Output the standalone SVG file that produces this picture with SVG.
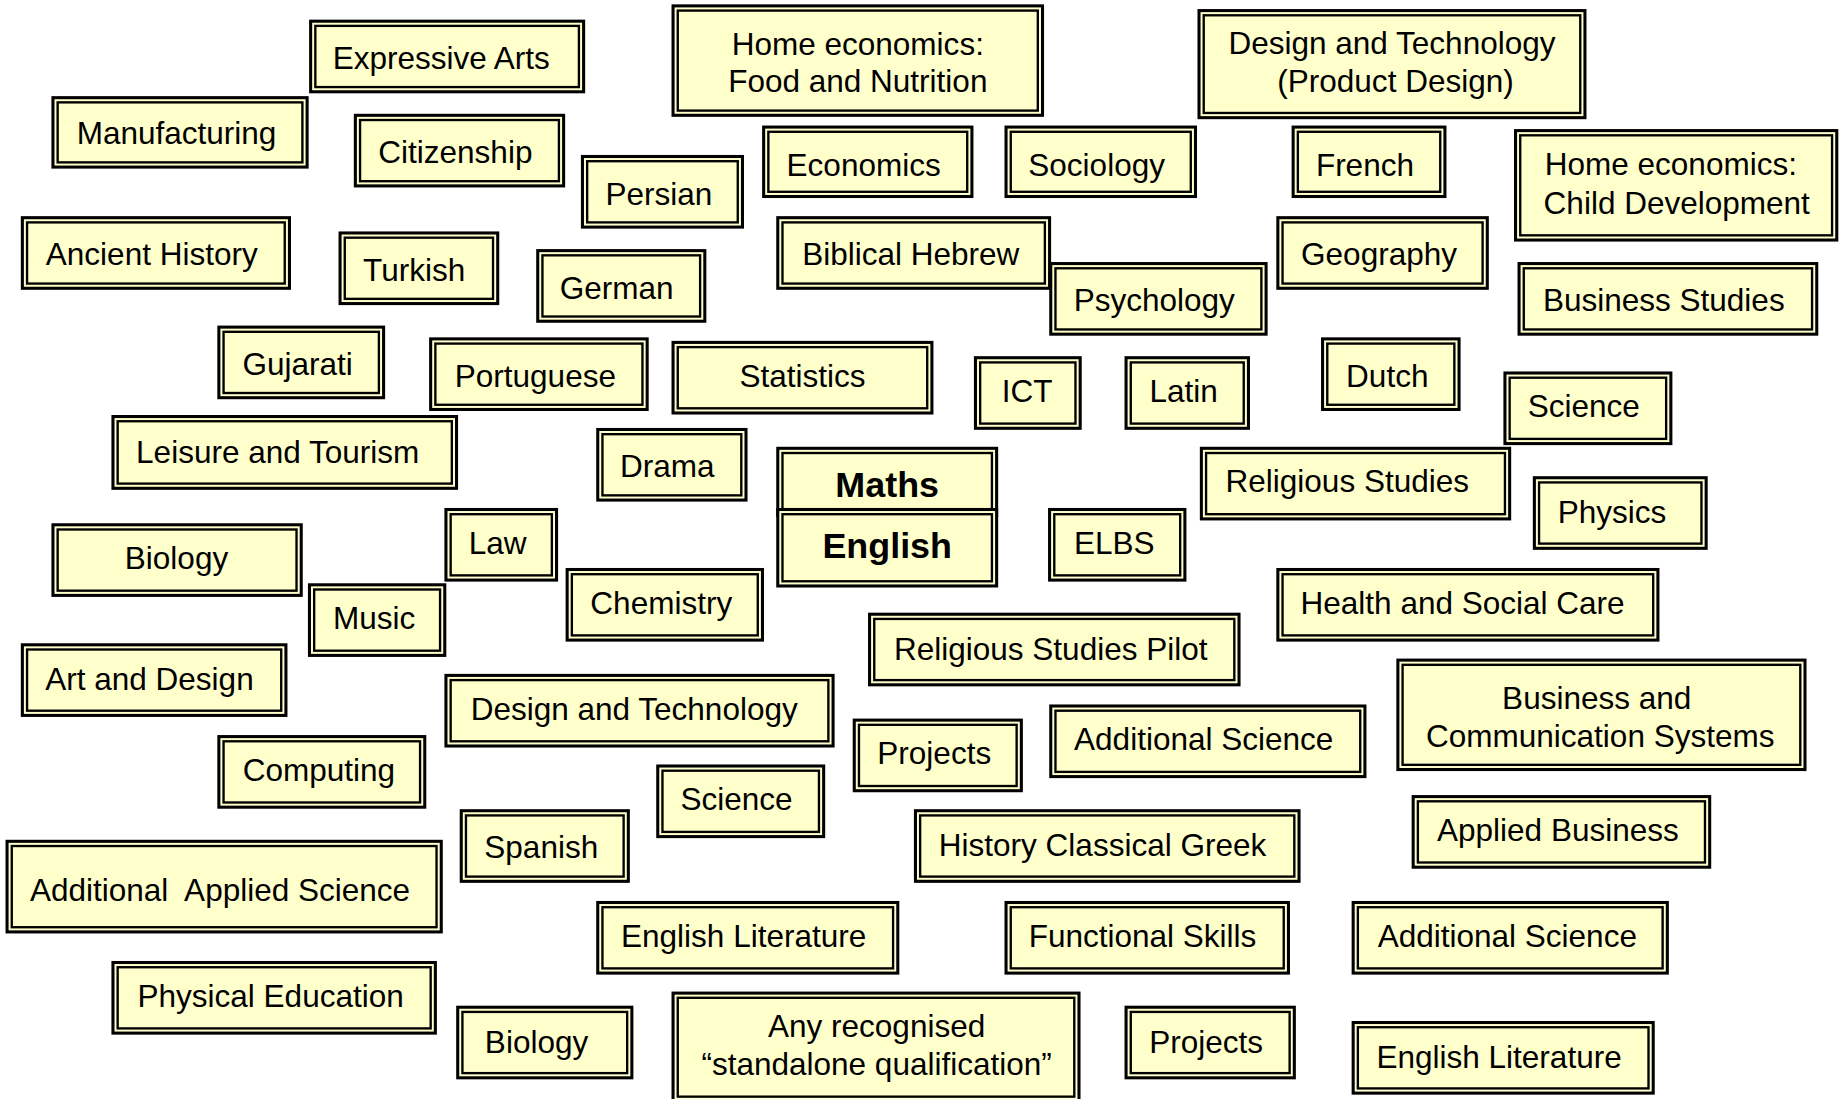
<svg xmlns="http://www.w3.org/2000/svg" width="1845" height="1099" viewBox="0 0 1845 1099">
<style>
.o{fill:#ffffcc;stroke:#000;stroke-width:2.6}
.i{fill:none;stroke:#000;stroke-width:2}
text{font-family:"Liberation Sans",Arial,sans-serif;font-size:26.8px;fill:#000;text-anchor:middle;white-space:pre}
.b{font-weight:bold;font-size:30.5px}
</style>
<rect width="1845" height="1099" fill="#fff"/>
<g id="connectors"/>
<g transform="scale(1.17666)">
<g id="n1"><rect class="o" x="264" y="18" width="232" height="60"/><rect class="i" x="268" y="22" width="224" height="52"/><text x="375" y="58.5">Expressive Arts</text></g>
<g id="n2"><rect class="o" x="572" y="5" width="314" height="93"/><rect class="i" x="576" y="9" width="306" height="85"/><text x="729" y="46.5">Home economics:</text><text x="729" y="78.5">Food and Nutrition</text></g>
<g id="n3"><rect class="o" x="1019" y="9" width="328" height="91"/><rect class="i" x="1023" y="13" width="320" height="83"/><text x="1183" y="45.5">Design and Technology</text><text x="1186" y="78.5">(Product Design)</text></g>
<g id="n4"><rect class="o" x="45" y="83" width="216" height="59"/><rect class="i" x="49" y="87" width="208" height="51"/><text x="150" y="122.5">Manufacturing</text></g>
<g id="n5"><rect class="o" x="302" y="98" width="177" height="60"/><rect class="i" x="306" y="102" width="169" height="52"/><text x="387" y="138.5">Citizenship</text></g>
<g id="n6"><rect class="o" x="495" y="133" width="136" height="60"/><rect class="i" x="499" y="137" width="128" height="52"/><text x="560" y="174.5">Persian</text></g>
<g id="n7"><rect class="o" x="649" y="108" width="177" height="59"/><rect class="i" x="653" y="112" width="169" height="51"/><text x="734" y="149.5">Economics</text></g>
<g id="n8"><rect class="o" x="855" y="108" width="161" height="59"/><rect class="i" x="859" y="112" width="153" height="51"/><text x="932" y="149.5">Sociology</text></g>
<g id="n9"><rect class="o" x="1099" y="108" width="129" height="59"/><rect class="i" x="1103" y="112" width="121" height="51"/><text x="1160" y="149.5">French</text></g>
<g id="n10"><rect class="o" x="1288" y="111" width="273" height="93"/><rect class="i" x="1292" y="115" width="265" height="85"/><text x="1420" y="148.5">Home economics:</text><text x="1425" y="181.5">Child Development</text></g>
<g id="n11"><rect class="o" x="19" y="185" width="227" height="60"/><rect class="i" x="23" y="189" width="219" height="52"/><text x="129" y="225.5">Ancient History</text></g>
<g id="n12"><rect class="o" x="289" y="198" width="134" height="60"/><rect class="i" x="293" y="202" width="126" height="52"/><text x="352" y="238.5">Turkish</text></g>
<g id="n13"><rect class="o" x="457" y="213" width="142" height="60"/><rect class="i" x="461" y="217" width="134" height="52"/><text x="524" y="254.5">German</text></g>
<g id="n14"><rect class="o" x="661" y="185" width="231" height="60"/><rect class="i" x="665" y="189" width="223" height="52"/><text x="774" y="225.5">Biblical Hebrew</text></g>
<g id="n15"><rect class="o" x="893" y="224" width="183" height="60"/><rect class="i" x="897" y="228" width="175" height="52"/><text x="981" y="264.5">Psychology</text></g>
<g id="n16"><rect class="o" x="1086" y="185" width="178" height="60"/><rect class="i" x="1090" y="189" width="170" height="52"/><text x="1172" y="225.5">Geography</text></g>
<g id="n17"><rect class="o" x="1291" y="224" width="253" height="60"/><rect class="i" x="1295" y="228" width="245" height="52"/><text x="1414" y="264.5">Business Studies</text></g>
<g id="n18"><rect class="o" x="186" y="278" width="140" height="60"/><rect class="i" x="190" y="282" width="132" height="52"/><text x="253" y="318.5">Gujarati</text></g>
<g id="n19"><rect class="o" x="366" y="288" width="184" height="60"/><rect class="i" x="370" y="292" width="176" height="52"/><text x="455" y="328.5">Portuguese</text></g>
<g id="n20"><rect class="o" x="572" y="291" width="220" height="60"/><rect class="i" x="576" y="295" width="212" height="52"/><text x="682" y="328.5">Statistics</text></g>
<g id="n21"><rect class="o" x="829" y="304" width="89" height="60"/><rect class="i" x="833" y="308" width="81" height="52"/><text x="873" y="341.5">ICT</text></g>
<g id="n22"><rect class="o" x="957" y="304" width="104" height="60"/><rect class="i" x="961" y="308" width="96" height="52"/><text x="1006" y="341.5">Latin</text></g>
<g id="n23"><rect class="o" x="1124" y="288" width="116" height="60"/><rect class="i" x="1128" y="292" width="108" height="52"/><text x="1179" y="328.5">Dutch</text></g>
<g id="n24"><rect class="o" x="1279" y="317" width="141" height="60"/><rect class="i" x="1283" y="321" width="133" height="52"/><text x="1346" y="354.5">Science</text></g>
<g id="n25"><rect class="o" x="96" y="354" width="292" height="61"/><rect class="i" x="100" y="358" width="284" height="53"/><text x="236" y="393.5">Leisure and Tourism</text></g>
<g id="n26"><rect class="o" x="508" y="365" width="126" height="60"/><rect class="i" x="512" y="369" width="118" height="52"/><text x="567" y="405.5">Drama</text></g>
<g id="n27"><rect class="o" x="661" y="381" width="186" height="57"/><rect class="i" x="665" y="385" width="178" height="49"/><text class="b" x="754" y="422">Maths</text></g>
<g id="n28"><rect class="o" x="661" y="433" width="186" height="65"/><rect class="i" x="665" y="437" width="178" height="57"/><text class="b" x="754" y="474">English</text></g>
<g id="n29"><rect class="o" x="892" y="433" width="115" height="60"/><rect class="i" x="896" y="437" width="107" height="52"/><text x="947" y="470.5">ELBS</text></g>
<g id="n30"><rect class="o" x="1021" y="381" width="262" height="60"/><rect class="i" x="1025" y="385" width="254" height="52"/><text x="1145" y="418.5">Religious Studies</text></g>
<g id="n31"><rect class="o" x="1304" y="406" width="146" height="60"/><rect class="i" x="1308" y="410" width="138" height="52"/><text x="1370" y="444.5">Physics</text></g>
<g id="n32"><rect class="o" x="45" y="446" width="211" height="60"/><rect class="i" x="49" y="450" width="203" height="52"/><text x="150" y="483.5">Biology</text></g>
<g id="n33"><rect class="o" x="379" y="433" width="94" height="60"/><rect class="i" x="383" y="437" width="86" height="52"/><text x="423" y="470.5">Law</text></g>
<g id="n34"><rect class="o" x="263" y="497" width="115" height="60"/><rect class="i" x="267" y="501" width="107" height="52"/><text x="318" y="534.5">Music</text></g>
<g id="n35"><rect class="o" x="482" y="484" width="166" height="60"/><rect class="i" x="486" y="488" width="158" height="52"/><text x="562" y="521.5">Chemistry</text></g>
<g id="n36"><rect class="o" x="1086" y="484" width="323" height="60"/><rect class="i" x="1090" y="488" width="315" height="52"/><text x="1243" y="521.5">Health and Social Care</text></g>
<g id="n37"><rect class="o" x="739" y="522" width="314" height="60"/><rect class="i" x="743" y="526" width="306" height="52"/><text x="893" y="560.5">Religious Studies Pilot</text></g>
<g id="n38"><rect class="o" x="19" y="548" width="224" height="60"/><rect class="i" x="23" y="552" width="216" height="52"/><text x="127" y="586.5">Art and Design</text></g>
<g id="n39"><rect class="o" x="379" y="574" width="329" height="60"/><rect class="i" x="383" y="578" width="321" height="52"/><text x="539" y="611.5">Design and Technology</text></g>
<g id="n40"><rect class="o" x="1188" y="561" width="346" height="93"/><rect class="i" x="1192" y="565" width="338" height="85"/><text x="1357" y="602.5">Business and</text><text x="1360" y="634.5">Communication Systems</text></g>
<g id="n41"><rect class="o" x="726" y="612" width="142" height="60"/><rect class="i" x="730" y="616" width="134" height="52"/><text x="794" y="649.5">Projects</text></g>
<g id="n42"><rect class="o" x="893" y="600" width="267" height="60"/><rect class="i" x="897" y="604" width="259" height="52"/><text x="1023" y="637.5">Additional Science</text></g>
<g id="n43"><rect class="o" x="186" y="626" width="175" height="60"/><rect class="i" x="190" y="630" width="167" height="52"/><text x="271" y="663.5">Computing</text></g>
<g id="n44"><rect class="o" x="559" y="651" width="141" height="60"/><rect class="i" x="563" y="655" width="133" height="52"/><text x="626" y="688.5">Science</text></g>
<g id="n45"><rect class="o" x="392" y="689" width="142" height="60"/><rect class="i" x="396" y="693" width="134" height="52"/><text x="460" y="729.5">Spanish</text></g>
<g id="n46"><rect class="o" x="778" y="689" width="326" height="60"/><rect class="i" x="782" y="693" width="318" height="52"/><text x="937" y="727.5">History Classical Greek</text></g>
<g id="n47"><rect class="o" x="1201" y="677" width="252" height="60"/><rect class="i" x="1205" y="681" width="244" height="52"/><text x="1324" y="714.5">Applied Business</text></g>
<g id="n48"><rect class="o" x="6" y="715" width="369" height="77"/><rect class="i" x="10" y="719" width="361" height="69"/><text x="187" y="765.5">Additional  Applied Science</text></g>
<g id="n49"><rect class="o" x="508" y="767" width="255" height="60"/><rect class="i" x="512" y="771" width="247" height="52"/><text x="632" y="804.5">English Literature</text></g>
<g id="n50"><rect class="o" x="855" y="767" width="240" height="60"/><rect class="i" x="859" y="771" width="232" height="52"/><text x="971" y="804.5">Functional Skills</text></g>
<g id="n51"><rect class="o" x="1150" y="767" width="267" height="60"/><rect class="i" x="1154" y="771" width="259" height="52"/><text x="1281" y="804.5">Additional Science</text></g>
<g id="n52"><rect class="o" x="96" y="818" width="274" height="60"/><rect class="i" x="100" y="822" width="266" height="52"/><text x="230" y="855.5">Physical Education</text></g>
<g id="n53"><rect class="o" x="389" y="856" width="148" height="60"/><rect class="i" x="393" y="860" width="140" height="52"/><text x="456" y="894.5">Biology</text></g>
<g id="n54"><rect class="o" x="572" y="844" width="345" height="92"/><rect class="i" x="576" y="848" width="337" height="84"/><text x="745" y="881.5">Any recognised</text><text x="745" y="913.5">“standalone qualification”</text></g>
<g id="n55"><rect class="o" x="957" y="856" width="143" height="60"/><rect class="i" x="961" y="860" width="135" height="52"/><text x="1025" y="894.5">Projects</text></g>
<g id="n56"><rect class="o" x="1150" y="869" width="255" height="60"/><rect class="i" x="1154" y="873" width="247" height="52"/><text x="1274" y="907.5">English Literature</text></g>
</g>
</svg>
